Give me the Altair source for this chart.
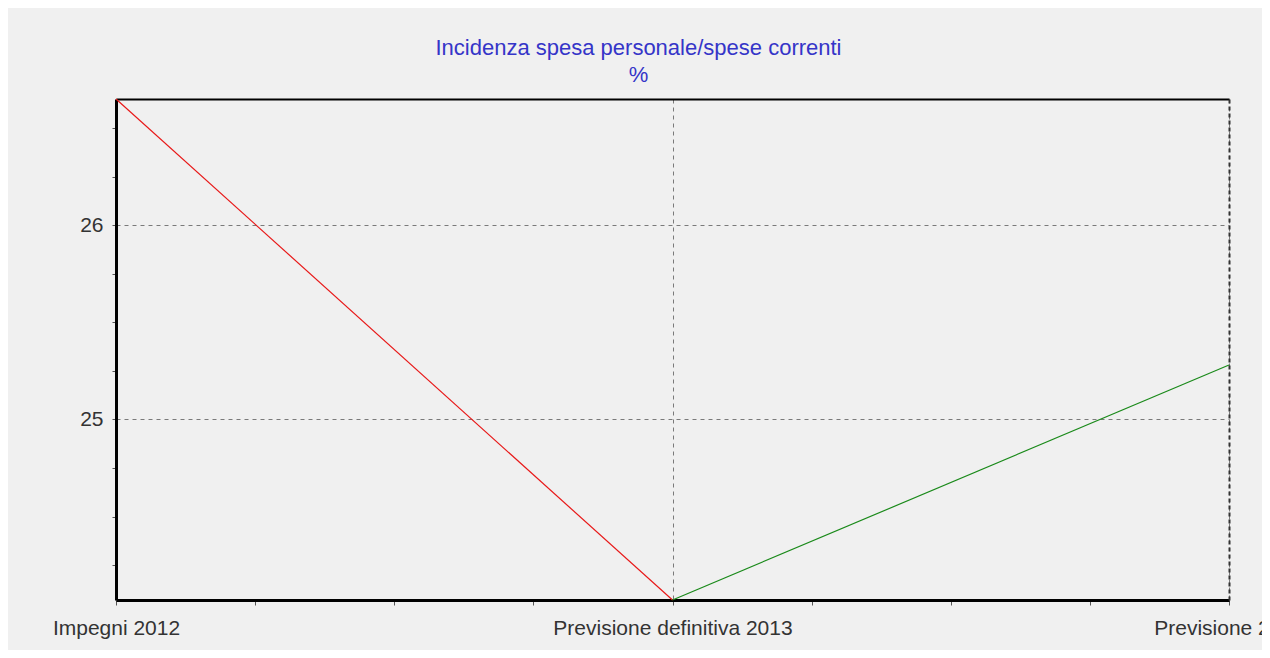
import json
import altair as alt
import pandas as pd

# ---- data ----
categories = ["Impegni 2012", "Previsione definitiva 2013", "Previsione 2014"]
values = [26.65, 24.07, 25.28]
segment_names = ["seg1", "seg2"]
segment_colors = ["#e81818", "#1a8a1a"]
title_lines = ["Incidenza spesa personale/spese correnti", "%"]

rows = []
for s, name in enumerate(segment_names):
    for i in (s, s + 1):
        rows.append({"idx": i, "cat": categories[i], "val": values[i], "seg": name, "order": i})
df = pd.DataFrame(rows)

FONT = "Liberation Sans"
label_expr = ("datum.value % 1 === 0 ? " + json.dumps(categories) + "[datum.value] : ''")
x_ticks = [i / 4 for i in range(0, 4 * (len(categories) - 1) + 1)]
y_min, y_max = min(values), max(values)
y_ticks = [v / 4 for v in range(int(y_min * 4) + 1, int(y_max * 4) + 1)]

grid_cond = {"condition": {"test": "datum.value % 1 === 0", "value": 1}, "value": 0}

x_scale = alt.Scale(domain=[0, len(categories) - 1], nice=False, zero=False)
y_scale = alt.Scale(domain=[y_min, y_max], nice=False, zero=False)

base = alt.Chart(df)

lines = base.mark_line(strokeWidth=1.2).encode(
    x=alt.X("idx:Q", scale=x_scale, title=None,
            axis=alt.Axis(values=x_ticks, labelExpr=label_expr, labelFlush=False,
                          labelOverlap=False, labelLimit=0, labelFont=FONT, labelFontSize=21,
                          labelColor="#333333", labelPadding=12, tickSize=5,
                          tickColor="#555555", tickWidth=1,
                          domainColor="#000000", domainWidth=3,
                          grid=True, gridColor="#7a7a7a", gridDash=[4, 4],
                          gridWidth=1, gridOpacity=grid_cond)),
    y=alt.Y("val:Q", scale=y_scale, title=None,
            axis=alt.Axis(values=y_ticks,
                          labelExpr="datum.value % 1 === 0 ? format(datum.value, 'd') : ''",
                          labelFlush=False, labelOverlap=False, labelFont=FONT,
                          labelFontSize=21, labelColor="#333333", labelPadding=9,
                          tickSize=4, tickColor="#555555", tickWidth=1,
                          domainColor="#000000", domainWidth=3,
                          grid=True, gridColor="#7a7a7a", gridDash=[4, 4],
                          gridWidth=1, gridOpacity=grid_cond)),
    color=alt.Color("seg:N", scale=alt.Scale(domain=segment_names, range=segment_colors),
                    legend=None),
    order="order:Q",
)

frame = base.mark_line(opacity=0).encode(
    x=alt.X("idx:Q", scale=x_scale, title=None,
            axis=alt.Axis(orient="top", labels=False, ticks=False, grid=False,
                          domainColor="#000000", domainWidth=2)),
    y=alt.Y("val:Q", scale=y_scale, title=None,
            axis=alt.Axis(orient="right", labels=False, ticks=False, grid=False,
                          domainColor="#333333", domainWidth=2, domainDash=[4, 3])),
    detail="seg:N",
)

chart = (
    alt.layer(lines, frame)
    .resolve_axis(x="independent", y="independent")
    .properties(
        width=1113,
        height=501,
        autosize=alt.AutoSizeParams(type="none"),
        padding={"left": 108, "top": 91, "right": 33, "bottom": 50},
        background="#f0f0f0",
        title=alt.TitleParams(text=title_lines, color="#3535c8", font=FONT,
                              fontSize=22, fontWeight="normal", anchor="middle",
                              baseline="alphabetic", lineHeight=27, offset=-7, dx=-34),
    )
    .configure_view(stroke=None, fill="#f0f0f0")
)

chart.save("out.html", embed_options={"renderer": "svg", "actions": False})
